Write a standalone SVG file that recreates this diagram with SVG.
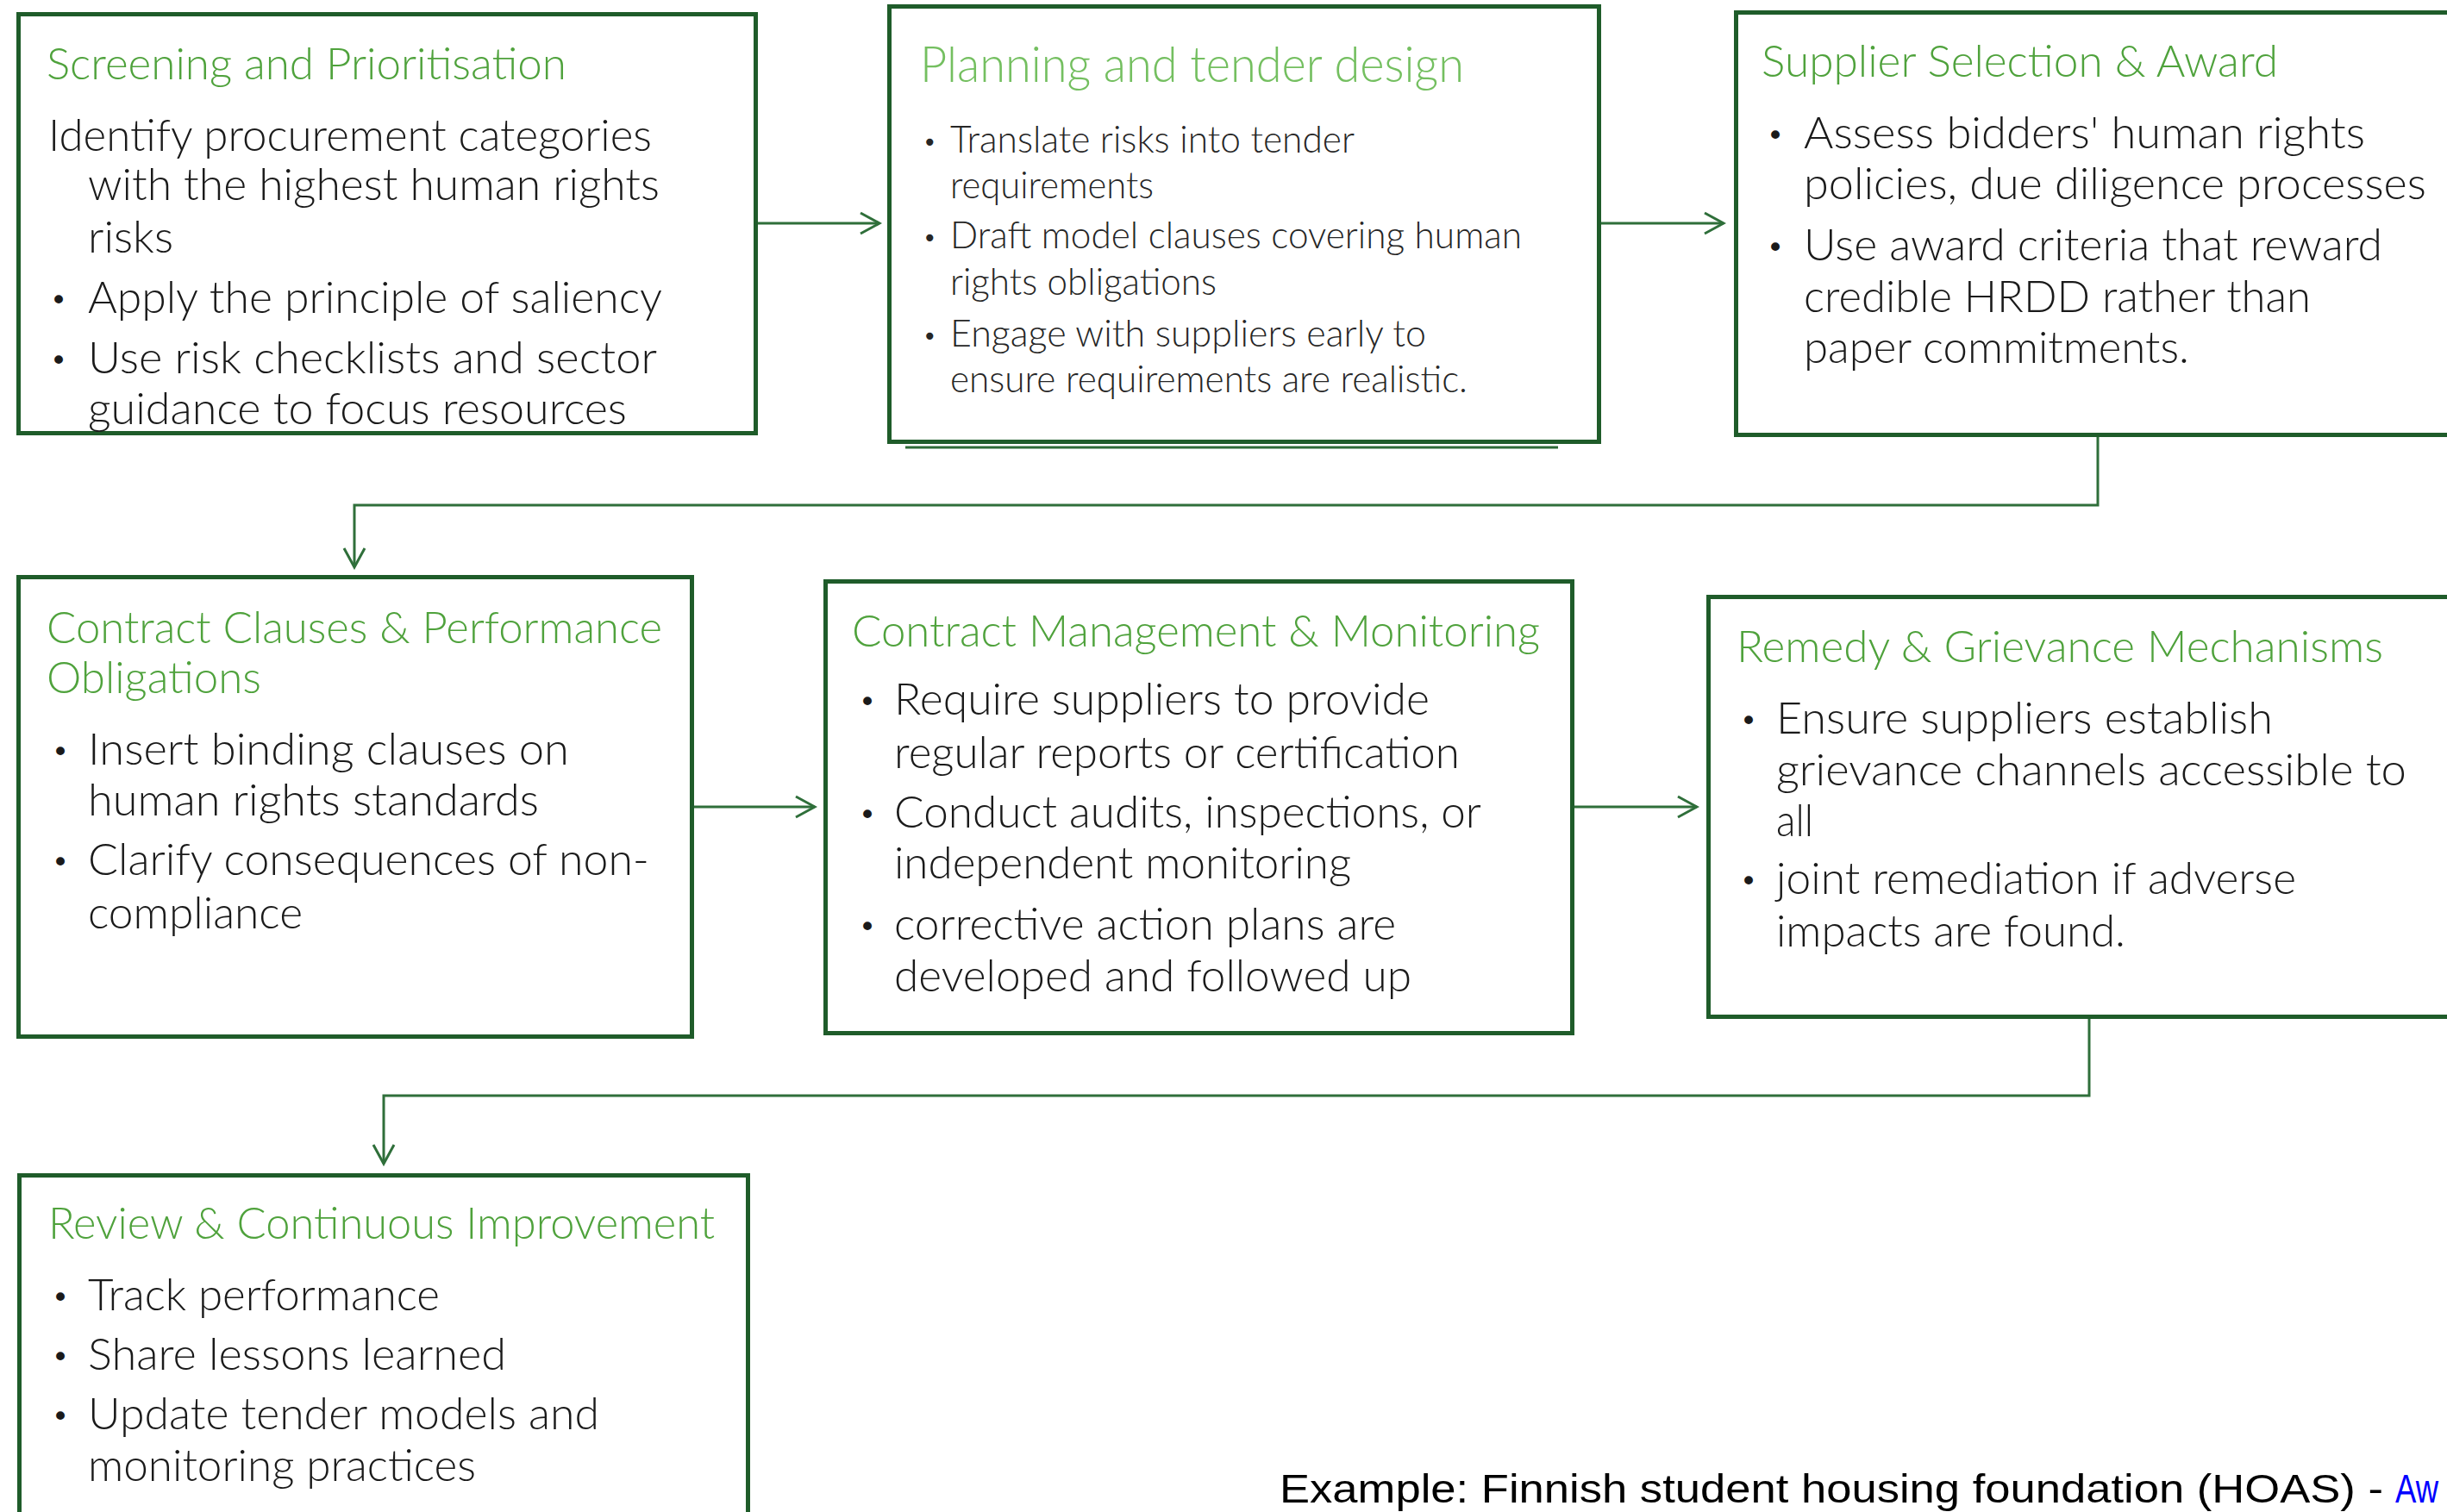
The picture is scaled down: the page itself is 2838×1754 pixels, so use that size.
<svg xmlns="http://www.w3.org/2000/svg" width="2838" height="1754" viewBox="0 0 2838 1754">
  <defs>
    <style>
      .box { fill: #ffffff; stroke: #1f5c2a; stroke-width: 5; }
      .shadow { fill: none; stroke: #2d6a36; stroke-width: 3; }
      .title { font-family: Lato, "Noto Sans", "Liberation Sans", sans-serif; font-size: 51px; font-weight: 300; fill: #4fa23c; }
      .title2 { font-family: Lato, "Noto Sans", "Liberation Sans", sans-serif; font-size: 58px; font-weight: 300; fill: #74bf60; }
      .body { font-family: Lato, "Noto Sans", "Liberation Sans", sans-serif; font-size: 52px; font-weight: 300; fill: #1a1a1a; }
      .body2 { font-family: Lato, "Noto Sans", "Liberation Sans", sans-serif; font-size: 44px; font-weight: 300; fill: #262626; }
      .bul { font-family: "DejaVu Sans", sans-serif; font-size: 34px; fill: #1a1a1a; }
      .bul2 { font-family: "DejaVu Sans", sans-serif; font-size: 28px; fill: #262626; }
      .conn { fill: none; stroke: #2f6f3a; stroke-width: 3; }
      .foot { font-family: "Liberation Sans", Arial, sans-serif; font-size: 46px; fill: #000000; }
      .link { fill: #0000ff; }
    </style>
    <marker id="arr" viewBox="0 0 28 28" refX="25" refY="14" markerWidth="28" markerHeight="28" markerUnits="userSpaceOnUse" orient="auto">
      <path d="M3,2 L25,14 L3,26" fill="none" stroke="#2f6f3a" stroke-width="3"/>
    </marker>
  </defs>
  <rect width="2838" height="1754" fill="#ffffff"/>

  <g id="connectors">
    <path class="conn" d="M879,259 H1020" marker-end="url(#arr)"/>
    <path class="conn" d="M1857,259 H1999" marker-end="url(#arr)"/>
    <path class="conn" d="M2433,507 V586 H411 V658" marker-end="url(#arr)"/>
    <path class="conn" d="M805,936 H945" marker-end="url(#arr)"/>
    <path class="conn" d="M1826,936 H1968" marker-end="url(#arr)"/>
    <path class="conn" d="M2423,1182 V1271 H445 V1350" marker-end="url(#arr)"/>
  </g>

  <g id="screening">
    <rect class="box" x="21.5" y="16.5" width="855" height="486"/>
    <text class="title" x="54" y="92" textLength="603" lengthAdjust="spacingAndGlyphs">Screening and Prioritisation</text>
    <text class="body" x="56" y="175" textLength="700" lengthAdjust="spacingAndGlyphs">Identify procurement categories</text>
    <text class="body" x="102" y="232" textLength="663" lengthAdjust="spacingAndGlyphs">with the highest human rights</text>
    <text class="body" x="102" y="293" textLength="99" lengthAdjust="spacingAndGlyphs">risks</text>
    <text class="bul" x="58" y="360">•</text>
    <text class="body" x="102" y="363" textLength="666" lengthAdjust="spacingAndGlyphs">Apply the principle of saliency</text>
    <text class="bul" x="58" y="430">•</text>
    <text class="body" x="102" y="433" textLength="660" lengthAdjust="spacingAndGlyphs">Use risk checklists and sector</text>
    <text class="body" x="102" y="492" textLength="625" lengthAdjust="spacingAndGlyphs">guidance to focus resources</text>
  </g>

  <g id="planning">
    <rect class="box" x="1031.5" y="7.5" width="823" height="505"/>
    <path class="shadow" d="M1050,519 H1807"/>
    <text class="title2" x="1067" y="95" textLength="631" lengthAdjust="spacingAndGlyphs">Planning and tender design</text>
    <text class="bul2" x="1070" y="175">•</text>
    <text class="body2" x="1102" y="177" textLength="469" lengthAdjust="spacingAndGlyphs">Translate risks into tender</text>
    <text class="body2" x="1102" y="230" textLength="236" lengthAdjust="spacingAndGlyphs">requirements</text>
    <text class="bul2" x="1070" y="286">•</text>
    <text class="body2" x="1102" y="288" textLength="663" lengthAdjust="spacingAndGlyphs">Draft model clauses covering human</text>
    <text class="body2" x="1102" y="342" textLength="309" lengthAdjust="spacingAndGlyphs">rights obligations</text>
    <text class="bul2" x="1070" y="400">•</text>
    <text class="body2" x="1102" y="402" textLength="552" lengthAdjust="spacingAndGlyphs">Engage with suppliers early to</text>
    <text class="body2" x="1102" y="455" textLength="600" lengthAdjust="spacingAndGlyphs">ensure requirements are realistic.</text>
  </g>

  <g id="supplier">
    <rect class="box" x="2013.5" y="14.5" width="900" height="490"/>
    <text class="title" x="2043" y="89" textLength="599" lengthAdjust="spacingAndGlyphs">Supplier Selection &amp; Award</text>
    <text class="bul" x="2049" y="169">•</text>
    <text class="body" x="2092" y="172" textLength="651" lengthAdjust="spacingAndGlyphs">Assess bidders' human rights</text>
    <text class="body" x="2092" y="231" textLength="722" lengthAdjust="spacingAndGlyphs">policies, due diligence processes</text>
    <text class="bul" x="2049" y="299">•</text>
    <text class="body" x="2092" y="302" textLength="671" lengthAdjust="spacingAndGlyphs">Use award criteria that reward</text>
    <text class="body" x="2092" y="362" textLength="588" lengthAdjust="spacingAndGlyphs">credible HRDD rather than</text>
    <text class="body" x="2092" y="421" textLength="447" lengthAdjust="spacingAndGlyphs">paper commitments.</text>
  </g>

  <g id="contract-clauses">
    <rect class="box" x="21.5" y="669.5" width="781" height="533"/>
    <text class="title" x="54" y="746" textLength="714" lengthAdjust="spacingAndGlyphs">Contract Clauses &amp; Performance</text>
    <text class="title" x="54" y="804" textLength="249" lengthAdjust="spacingAndGlyphs">Obligations</text>
    <text class="bul" x="60" y="884">•</text>
    <text class="body" x="102" y="887" textLength="558" lengthAdjust="spacingAndGlyphs">Insert binding clauses on</text>
    <text class="body" x="102" y="946" textLength="523" lengthAdjust="spacingAndGlyphs">human rights standards</text>
    <text class="bul" x="60" y="1012">•</text>
    <text class="body" x="102" y="1015" textLength="651" lengthAdjust="spacingAndGlyphs">Clarify consequences of non-</text>
    <text class="body" x="102" y="1077" textLength="249" lengthAdjust="spacingAndGlyphs">compliance</text>
  </g>

  <g id="contract-management">
    <rect class="box" x="957.5" y="674.5" width="866" height="524"/>
    <text class="title" x="988" y="750" textLength="798" lengthAdjust="spacingAndGlyphs">Contract Management &amp; Monitoring</text>
    <text class="bul" x="996" y="826">•</text>
    <text class="body" x="1037" y="829" textLength="621" lengthAdjust="spacingAndGlyphs">Require suppliers to provide</text>
    <text class="body" x="1037" y="891" textLength="656" lengthAdjust="spacingAndGlyphs">regular reports or certification</text>
    <text class="bul" x="996" y="957">•</text>
    <text class="body" x="1037" y="960" textLength="681" lengthAdjust="spacingAndGlyphs">Conduct audits, inspections, or</text>
    <text class="body" x="1037" y="1019" textLength="530" lengthAdjust="spacingAndGlyphs">independent monitoring</text>
    <text class="bul" x="996" y="1087">•</text>
    <text class="body" x="1037" y="1090" textLength="582" lengthAdjust="spacingAndGlyphs">corrective action plans are</text>
    <text class="body" x="1037" y="1150" textLength="600" lengthAdjust="spacingAndGlyphs">developed and followed up</text>
  </g>

  <g id="remedy">
    <rect class="box" x="1981.5" y="692.5" width="900" height="487"/>
    <text class="title" x="2014" y="768" textLength="750" lengthAdjust="spacingAndGlyphs">Remedy &amp; Grievance Mechanisms</text>
    <text class="bul" x="2018" y="848">•</text>
    <text class="body" x="2060" y="851" textLength="576" lengthAdjust="spacingAndGlyphs">Ensure suppliers establish</text>
    <text class="body" x="2060" y="911" textLength="731" lengthAdjust="spacingAndGlyphs">grievance channels accessible to</text>
    <text class="body" x="2060" y="970" textLength="43" lengthAdjust="spacingAndGlyphs">all</text>
    <text class="bul" x="2018" y="1034">•</text>
    <text class="body" x="2060" y="1037" textLength="603" lengthAdjust="spacingAndGlyphs">joint remediation if adverse</text>
    <text class="body" x="2060" y="1098" textLength="405" lengthAdjust="spacingAndGlyphs">impacts are found.</text>
  </g>

  <g id="review">
    <rect class="box" x="22.5" y="1363.5" width="845" height="500"/>
    <text class="title" x="56" y="1437" textLength="773" lengthAdjust="spacingAndGlyphs">Review &amp; Continuous Improvement</text>
    <text class="bul" x="60" y="1517">•</text>
    <text class="body" x="102" y="1520" textLength="408" lengthAdjust="spacingAndGlyphs">Track performance</text>
    <text class="bul" x="60" y="1586">•</text>
    <text class="body" x="102" y="1589" textLength="485" lengthAdjust="spacingAndGlyphs">Share lessons learned</text>
    <text class="bul" x="60" y="1655">•</text>
    <text class="body" x="102" y="1658" textLength="593" lengthAdjust="spacingAndGlyphs">Update tender models and</text>
    <text class="body" x="102" y="1718" textLength="450" lengthAdjust="spacingAndGlyphs">monitoring practices</text>
  </g>

  <g id="footer">
    <text class="foot" x="1484" y="1743" textLength="1280" lengthAdjust="spacingAndGlyphs">Example: Finnish student housing foundation (HOAS) -</text>
    <text class="foot link" x="2778" y="1743" textLength="50" lengthAdjust="spacingAndGlyphs">Aw</text>
  </g>
</svg>
